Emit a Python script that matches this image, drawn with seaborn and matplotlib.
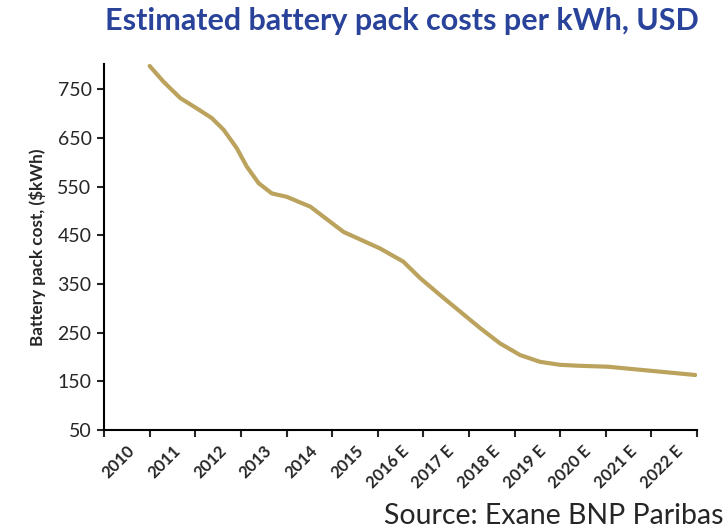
import numpy as np
import pandas as pd
import matplotlib
matplotlib.use("Agg")
import matplotlib.pyplot as plt
import seaborn as sns

# Categorias del eje x (etiquetas entre marcas)
years = ["2010", "2011", "2012", "2013", "2014", "2015", "2016 E",
         "2017 E", "2018 E", "2019 E", "2020 E", "2021 E", "2022 E"]

# Posicion de cada punto leido (en marcas del eje) y coste en $/kWh
point_pos = [1.0, 1.3, 1.67, 2.03, 2.36, 2.62, 2.91, 3.13, 3.39, 3.68,
             4.01, 4.26, 4.52, 5.25, 6.05, 6.56, 6.93, 7.37, 7.81, 8.25,
             8.68, 9.12, 9.56, 9.99, 10.4, 11.05, 12.06, 12.96]
cost = [798, 766, 732, 711, 691, 667, 629, 591, 557, 536,
        529, 519, 509, 457, 423, 396, 362, 327, 293, 259,
        228, 204, 190, 184, 182, 180, 171, 163]

y_ticks = [50, 150, 250, 350, 450, 550, 650, 750]

df = pd.DataFrame({"pos": point_pos, "cost": cost})

sns.set_style("ticks")
plt.rcParams["font.family"] = ["Lato", "DejaVu Sans"]

fig = plt.figure(figsize=(7.28, 5.31), dpi=100)
ax = fig.add_axes([0.1429, 0.1902, 0.8146, 0.6893])

sns.lineplot(data=df, x="pos", y="cost", ax=ax, color="#bba35e", linewidth=3)

ax.set_xlim(0, len(years))
ax.set_ylim(50, 802)
ax.set_yticks(y_ticks)
ax.set_yticklabels([str(v) for v in y_ticks], fontsize=14)
ax.set_xticks(np.arange(len(years) + 1))
ax.set_xticklabels([])
ax.set_xticks(np.arange(len(years)) + 0.5, minor=True)
ax.set_xticklabels(years, minor=True, rotation=45, ha="right",
                   rotation_mode="anchor", fontsize=12, fontweight="bold")
ax.tick_params(axis="x", which="minor", length=0, pad=9)
ax.tick_params(axis="x", which="major", length=5, width=1.5, direction="out")
ax.tick_params(axis="y", length=5, width=1.5, direction="out", pad=4)

for s in ["left", "bottom"]:
    ax.spines[s].set_linewidth(1.5)
    ax.spines[s].set_color("black")
sns.despine(ax=ax)

ax.set_xlabel("")
ax.set_ylabel("Battery pack cost, ($kWh)", fontsize=12.3, fontweight="bold",
              labelpad=8)

fig.text(0.552, 0.96, "Estimated battery pack costs per kWh, USD",
         ha="center", va="center", fontsize=22, fontweight="bold",
         color="#2a439a")
fig.text(0.994, 0.028, "Source: Exane BNP Paribas", ha="right", va="center",
         fontsize=20.5)

plt.savefig("out.png", dpi=100)
